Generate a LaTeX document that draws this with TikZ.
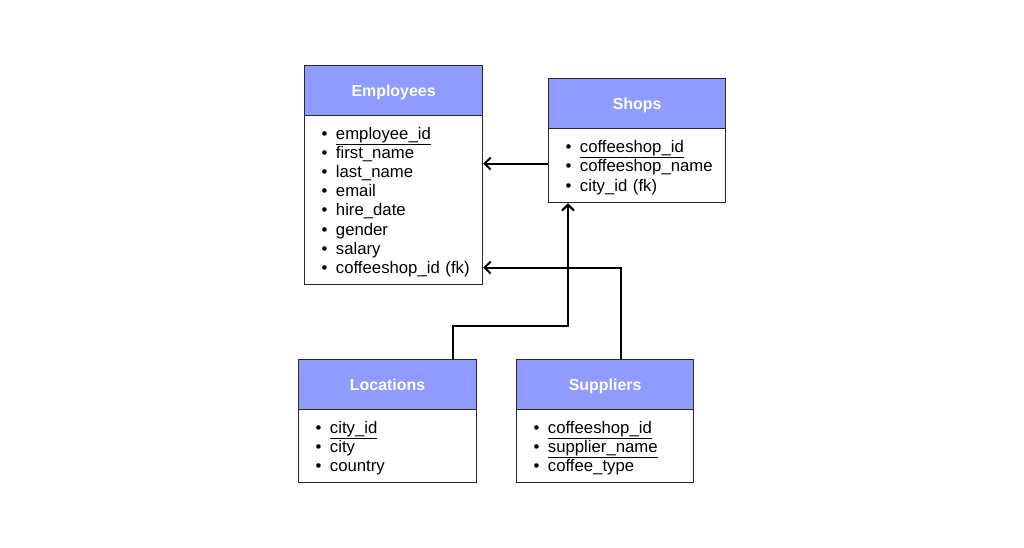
\documentclass[tikz,border=0pt]{standalone}
\usepackage{fontspec}
\setmainfont{Liberation Sans}
\usetikzlibrary{arrows.meta}
\definecolor{hdr}{RGB}{143,155,255}
\definecolor{bord}{RGB}{40,40,40}
\hfuzz=100pt
\newcommand{\li}[1]{\mbox{\textbullet\hspace{8.5bp}#1}}
\newcommand{\fli}[1]{\mbox{\rule{0pt}{16bp}\textbullet\hspace{8.5bp}#1}}
\begin{document}
\begin{tikzpicture}[x=1bp,y=-1bp,
  hdrbox/.style={draw=bord,line width=1.2bp,fill=hdr,minimum height=50bp,anchor=north west,inner sep=0pt,
    text height=12bp,text depth=0bp,
    font=\fontsize{16}{19}\selectfont\bfseries,text=white},
  bodybox/.style={draw=bord,line width=1.2bp,fill=white,anchor=north west,inner xsep=17bp,inner ysep=0pt,
    align=left,font=\fontsize{16.8}{19.3}\selectfont},
  conn/.style={line width=2bp,black,-{Straight Barb[length=6bp,width=12bp,line width=2bp]}}]
\useasboundingbox (0,0) rectangle (1024,548);
% Employees
\node[hdrbox,minimum width=178bp] (emph) at (304,65) {Employees};
\node[bodybox,text width=144bp,minimum height=169bp] (empb) at (304,115)
 {\fli{\underline{employee\_id}}\\ \li{first\_name}\\ \li{last\_name}\\ \li{email}\\ \li{hire\_date}\\ \li{gender}\\ \li{salary}\\ \li{coffeeshop\_id (fk)}};
% Shops
\node[hdrbox,minimum width=177bp] (shoph) at (548,78) {Shops};
\node[bodybox,text width=143bp,minimum height=74bp] (shopb) at (548,128)
 {\fli{\underline{coffeeshop\_id}}\\ \li{coffeeshop\_name}\\ \li{city\_id (fk)}};
% Locations
\node[hdrbox,minimum width=178bp] (loch) at (298,359) {Locations};
\node[bodybox,text width=144bp,minimum height=73bp] (locb) at (298,409)
 {\fli{\underline{city\_id}}\\ \li{city}\\ \li{country}};
% Suppliers
\node[hdrbox,minimum width=177bp] (suph) at (516,359) {Suppliers};
\node[bodybox,text width=143bp,minimum height=73bp] (supb) at (516,409)
 {\fli{\underline{coffeeshop\_id}}\\ \li{\underline{supplier\_name}}\\ \li{coffee\_type}};
% connectors
\coordinate (bend1) at (568,326);
\draw[conn] ([yshift=2bp]shopb.west) -- ([yshift=2bp]shopb.west -| empb.east);
\draw[conn] ([xshift=65bp]loch.north) |- (bend1) -- (bend1 |- shopb.south);
\draw[conn] ([xshift=15.5bp]suph.north) |- ([yshift=-67.5bp]empb.east);
\end{tikzpicture}
\end{document}
